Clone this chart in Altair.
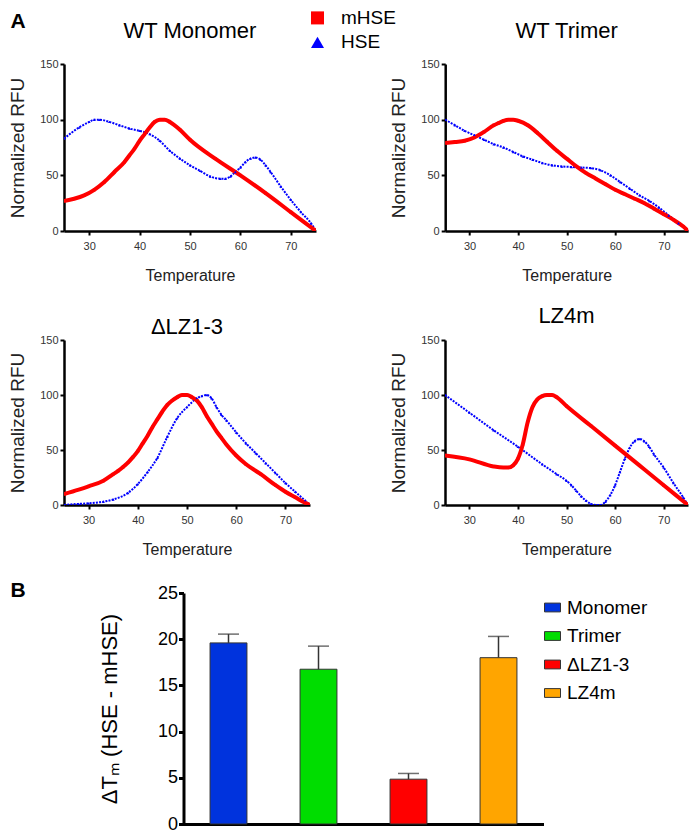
import altair as alt
import pandas as pd

FONT = "Liberation Sans"

# ---------------- data: melting curves (Temperature, Normalized RFU) ----------------
MON_M_T = [25, 27, 29, 31, 33, 35, 37, 38, 39, 40, 41, 42, 43, 44, 45, 46, 48, 50, 55, 60, 65, 70, 75]
MON_M_V = [27, 29, 32, 37, 44, 53, 62, 68, 74, 81, 87, 93, 98, 100, 100, 98, 91, 82, 65, 50, 34, 17, 0]
MON_H_T = [25, 28, 30, 31, 32, 34, 36, 38, 40, 42, 44, 46, 48, 50, 52, 54, 56, 57, 58, 59, 60, 61, 62, 63, 64, 65, 66, 68, 70, 72, 74, 75]
MON_H_V = [83, 93, 98, 100, 100, 98, 95, 92, 90, 87, 81, 72, 65, 59, 54, 49, 47, 47, 49, 53, 57, 62, 65, 66, 64, 59, 53, 40, 28, 17, 7, 0]

TRI_M_T = [25, 27, 29, 31, 33, 35, 36, 37, 38, 39, 40, 42, 44, 46, 48, 50, 52, 54, 56, 58, 60, 62, 64, 66, 68, 70, 72, 74, 75]
TRI_M_V = [79, 80, 81, 84, 89, 95, 97, 99, 100, 100, 99, 95, 88, 80, 72, 65, 58, 52, 47, 42, 37, 33, 29, 25, 20, 15, 10, 4, 0]
TRI_H_T = [25, 27, 29, 31, 33, 35, 37, 39, 41, 43, 45, 47, 49, 51, 53, 55, 57, 59, 61, 63, 65, 67, 69, 71, 73, 75]
TRI_H_V = [100, 95, 90, 86, 82, 78, 75, 71, 67, 64, 61, 59, 58, 57.5, 57, 56.5, 54.5, 50, 44, 38, 32, 27, 21, 14, 7, 0]

DLZ_M_T = [25, 28, 30, 33, 35, 36, 37, 38, 39, 40, 41, 42, 43, 44, 45, 46, 47, 48, 49, 50, 51, 52, 53, 54, 55, 56, 57, 58, 60, 62, 65, 68, 70, 72, 74, 75]
DLZ_M_V = [10, 14, 17, 22, 28, 31, 34.5, 38.5, 43.5, 49, 56, 63, 71, 78, 85, 91, 95, 98, 100, 100, 98, 95, 89, 81, 74, 67, 61, 55, 45, 37, 28, 18, 12, 7, 2, 0]
DLZ_H_T = [25, 28, 30, 33, 35, 38, 40, 42, 44, 46, 48, 50, 52, 53, 54, 55, 56, 57, 58, 60, 62, 64, 66, 68, 70, 72, 74, 75]
DLZ_H_V = [0, 1, 1.5, 3, 5, 11, 19, 30, 43, 62, 79, 89, 97, 99, 100, 97, 89, 82, 77, 66, 56, 47, 38, 29, 20, 12, 4, 0]

LZ4_M_T = [25, 30, 35, 37, 38, 39, 40, 41, 42, 43, 44, 45, 46, 47, 48, 50, 55, 60, 65, 70, 75]
LZ4_M_V = [45, 41.5, 35, 34, 34, 36, 42, 55, 75, 89, 96, 99, 100, 100, 98, 90, 72, 54, 36, 18, 0]
LZ4_H_T = [25, 30, 35, 40, 45, 48, 50, 51, 52, 53, 54, 55, 56, 57, 58, 59, 60, 61, 62, 63, 64, 65, 66, 67, 68, 70, 72, 74, 75]
LZ4_H_V = [100, 84, 68, 53, 37, 28, 22, 18, 13, 8, 4, 1, 0, 0, 3, 9, 18, 30, 42, 52, 58, 60, 58, 53, 46, 34, 20, 7, 0]

PANEL_TITLES = ["WT Monomer", "WT Trimer", "\u0394LZ1-3", "LZ4m"]
SERIES = ["mHSE", "HSE"]
SERIES_COLORS = ["#ff0000", "#0000ff"]
SERIES_SHAPES = ["square", "triangle-up"]

X_TICKS = [30, 40, 50, 60, 70]
Y_TICKS = [0, 50, 100, 150]

# ---------------- data: bar chart ----------------
GROUPS = ["Monomer", "Trimer", "\u0394LZ1-3", "LZ4m"]
DTM_MEAN = [19.6, 16.75, 4.85, 18.0]
DTM_ERR = [0.95, 2.5, 0.62, 2.3]
GROUP_COLORS = ["#0033dd", "#00dd00", "#ff0000", "#ffa500"]
BAR_TICKS = [0, 5, 10, 15, 20, 25]

PANEL_LABELS = ["A", "B"]

# ---------------- helpers ----------------
series_legend = alt.Legend(
    orient="none", legendX=244, legendY=-55.6, direction="vertical", title=None,
    labelFontSize=19, labelColor="black", labelOffset=14, rowPadding=4.5,
    symbolSize=170, symbolStrokeWidth=0,
)


def x_axis():
    return alt.Axis(values=X_TICKS, title="Temperature", titleFontSize=16, titleFontWeight="normal",
                    titlePadding=16, titleColor="#222", labelFontSize=11, labelColor="#333",
                    labelPadding=5, tickSize=4, tickWidth=2, tickColor="black",
                    domainColor="black", domainWidth=2.5, grid=False)


def y_axis():
    return alt.Axis(values=Y_TICKS, title="Normalized RFU", titleFontSize=19, titleFontWeight="normal",
                    titlePadding=12, titleColor="#222", labelFontSize=11, labelColor="#333",
                    labelPadding=2, tickSize=4, tickWidth=2, tickColor="black",
                    domainColor="black", domainWidth=2.5, grid=False)


def panel(idx, title_dy, tm, vm, th, vh, w, h, extra=None):
    df = pd.DataFrame({
        "T": th + tm,
        "V": vh + vm,
        "series": ["HSE"] * len(th) + ["mHSE"] * len(tm),
    })
    x = alt.X("T:Q", scale=alt.Scale(domain=[25, 75], nice=False, zero=False), axis=x_axis())
    y = alt.Y("V:Q", scale=alt.Scale(domain=[0, 150], nice=False), axis=y_axis())
    color = alt.Color("series:N", scale=alt.Scale(domain=SERIES, range=SERIES_COLORS), legend=series_legend)
    shape = alt.Shape("series:N", scale=alt.Scale(domain=SERIES, range=SERIES_SHAPES), legend=series_legend)
    base = alt.Chart(df).encode(x=x, y=y, color=color)
    blue = base.transform_filter(alt.datum.series == "HSE").mark_line(
        interpolate="monotone", strokeWidth=2, strokeDash=[2, 1.2], strokeJoin="round", clip=True)
    red = base.transform_filter(alt.datum.series == "mHSE").mark_line(
        interpolate="monotone", strokeWidth=4, strokeJoin="round", clip=True)
    pts = base.mark_point(filled=True, size=8, opacity=1, clip=True).encode(shape=shape)
    ttl = alt.Chart(pd.DataFrame({"t": [PANEL_TITLES[idx]]})).mark_text(
        align="center", baseline="alphabetic", fontSize=22, color="black"
    ).encode(text="t:N", x=alt.value(w / 2), y=alt.value(title_dy))
    layers = [blue, red, pts, ttl]
    if extra is not None:
        layers.append(extra)
    return alt.layer(*layers).properties(width=w, height=h)


label_a = alt.Chart(pd.DataFrame({"t": [PANEL_LABELS[0]]})).mark_text(
    align="left", baseline="top", fontSize=21, fontWeight="bold", color="black"
).encode(text="t:N", x=alt.value(-53.5), y=alt.value(-53))

p1 = panel(0, -26.3, MON_M_T, MON_M_V, MON_H_T, MON_H_V, 252, 167, extra=label_a)
p2 = panel(1, -26.3, TRI_M_T, TRI_M_V, TRI_H_T, TRI_H_V, 243, 167)
p3 = panel(2, -6.3, DLZ_M_T, DLZ_M_V, DLZ_H_T, DLZ_H_V, 246, 165)
p4 = panel(3, -16.7, LZ4_M_T, LZ4_M_V, LZ4_H_T, LZ4_H_V, 243, 165)

# ---------------- bar chart ----------------
bar_df = pd.DataFrame({
    "group": GROUPS,
    "mean": DTM_MEAN,
    "upper": [m + e for m, e in zip(DTM_MEAN, DTM_ERR)],
})

bx = alt.X("group:N", sort=GROUPS, scale=alt.Scale(paddingInner=0.59, paddingOuter=0.295),
           axis=alt.Axis(labels=False, ticks=False, title=None, domainColor="black", domainWidth=3))
by_axis = alt.Axis(values=BAR_TICKS, title="\u0394T\u2098 (HSE - mHSE)", titleFontSize=22,
                   titleFontWeight="normal", titleColor="black", titlePadding=36,
                   labelFontSize=18, labelColor="black", labelPadding=1, tickSize=5, tickWidth=3,
                   tickColor="black", domainColor="black", domainWidth=3, grid=False)

bar_legend = alt.Legend(
    orient="none", legendX=479, legendY=534, direction="vertical", title=None,
    labelFontSize=19, labelColor="black", labelOffset=5, rowPadding=8.5,
    symbolType="M-1,-0.55H1V0.55H-1Z", symbolSize=256,
    symbolStrokeColor="#333", symbolStrokeWidth=1,
)

bars = alt.Chart(bar_df).mark_bar(stroke="#333", strokeWidth=1).encode(
    x=bx,
    y=alt.Y("mean:Q", scale=alt.Scale(domain=[0, 25], nice=False), axis=by_axis),
    fill=alt.Fill("group:N", sort=GROUPS, scale=alt.Scale(domain=GROUPS, range=GROUP_COLORS), legend=bar_legend),
)
err_rule = alt.Chart(bar_df).mark_rule(color="#333", strokeWidth=1.5).encode(
    x=alt.X("group:N", sort=GROUPS), y="mean:Q", y2="upper:Q")
err_cap = alt.Chart(bar_df).mark_tick(color="#333", thickness=1.5, size=21).encode(
    x=alt.X("group:N", sort=GROUPS), y="upper:Q")

bar_chart = alt.layer(bars, err_rule, err_cap).properties(width=360, height=231)

label_b = alt.Chart(pd.DataFrame({"t": [PANEL_LABELS[1]]})).mark_text(
    align="left", baseline="top", fontSize=21, fontWeight="bold", color="black"
).encode(text="t:N", x=alt.value(-53.5), y=alt.value(-13.5)).properties(width=1, height=1)

row1 = alt.hconcat(p1, p2, spacing=129.2, bounds="flush")
row2 = alt.hconcat(p3, p4, spacing=135, bounds="flush")
row3 = alt.hconcat(label_b, bar_chart, spacing=118.5, bounds="flush")

chart = alt.vconcat(row1, row2, row3, spacing=22).properties(padding=0).configure(
    font=FONT
).configure_view(stroke=None)

chart.save("out.html", embed_options={"renderer": "svg", "actions": False})
